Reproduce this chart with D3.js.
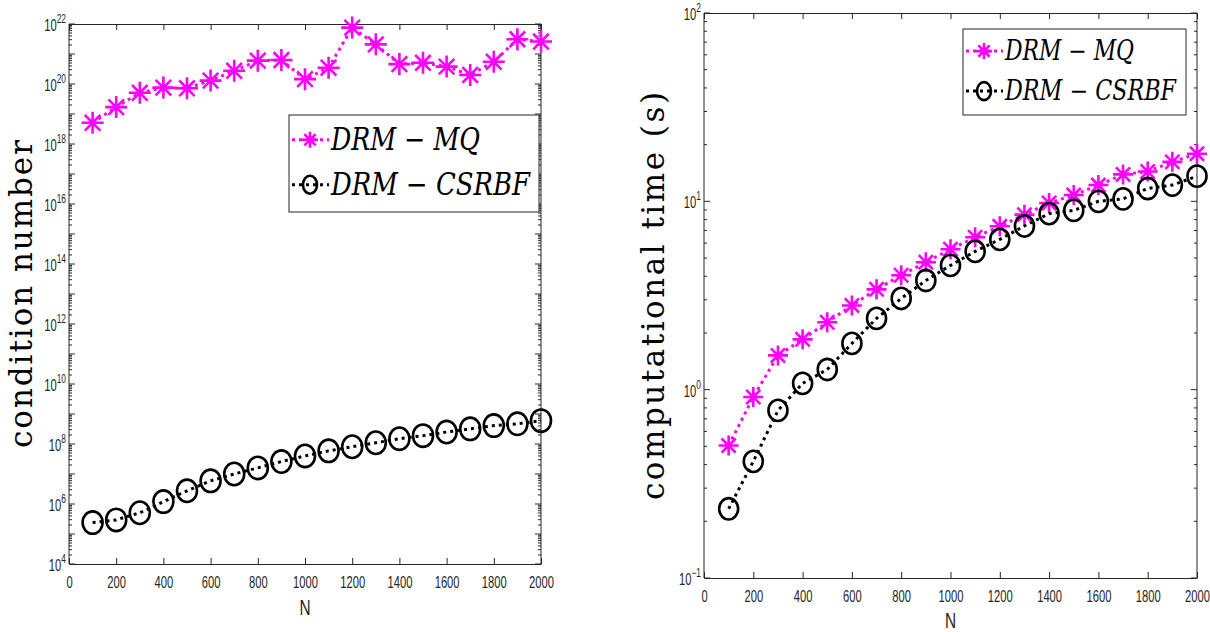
<!DOCTYPE html>
<html>
<head>
<meta charset="utf-8">
<script src="https://cdn.jsdelivr.net/npm/d3@7"></script>
<style>
  body { margin: 0; background: #fff; }
  .tick text, .tlab { font-family: "Liberation Sans", Arial, sans-serif; font-size: 16px; fill: #262626; }
  .ylab { font-family: "DejaVu Serif", serif; font-size: 31px; fill: #000; }
  .leg { font-family: "DejaVu Serif", serif; font-style: italic; fill: #000; }
</style>
</head>
<body>
<div id="chart"></div>
<script>
// N values shared by both panels
const nValues = d3.range(100, 2001, 100);

// condition numbers (left panel)
const condMQ = [5.1e18, 1.7e19, 5.1e19, 7.6e19, 7.2e19, 1.3e20, 2.75e20, 6.0e20, 6.3e20, 1.45e20,
  3.5e20, 7.6e21, 2.1e21, 4.6e20, 5.1e20, 3.8e20, 2.0e20, 5.5e20, 3.1e21, 2.6e21];
const condCS = [2.4e5, 2.95e5, 5.1e5, 1.2e6, 2.75e6, 5.9e6, 1.0e7, 1.6e7, 2.6e7, 4.0e7,
  5.9e7, 8.1e7, 1.1e8, 1.5e8, 1.9e8, 2.5e8, 3.2e8, 4.1e8, 4.7e8, 6.0e8];

// computational time in seconds (right panel)
const timeMQ = [0.505, 0.914, 1.52, 1.85, 2.28, 2.8, 3.41, 4.05, 4.75, 5.57,
  6.45, 7.37, 8.5, 9.8, 10.8, 12.2, 13.9, 14.4, 16.2, 17.9];
const timeCS = [0.233, 0.416, 0.776, 1.08, 1.28, 1.76, 2.39, 3.05, 3.8, 4.57,
  5.42, 6.28, 7.4, 8.6, 8.95, 10.0, 10.3, 11.7, 12.2, 13.6];

const xTicks = d3.range(0, 2001, 200);
const condExps = d3.range(4, 23, 2);
const timeExps = [-1, 0, 1, 2];
const seriesNames = ['DRM \u2212 MQ', 'DRM \u2212 CSRBF'];

const MAG = '#ff00ff';
const AX = '#262626';
const NARROW = 0.7; // squeeze tick labels, the original font is condensed

const svg = d3.select('#chart').append('svg')
  .attr('width', 1210).attr('height', 632);

function asterisk(g, r) {
  const p = d3.path();
  for (let a = 0; a < 4; a++) {
    const t = a * Math.PI / 4;
    p.moveTo(-r * Math.cos(t), -r * Math.sin(t));
    p.lineTo(r * Math.cos(t), r * Math.sin(t));
  }
  g.append('path').attr('d', p.toString())
    .attr('stroke', MAG).attr('stroke-width', 2.6).attr('fill', 'none');
}

function circleMark(g, rx, ry) {
  g.append('ellipse').attr('rx', rx).attr('ry', ry)
    .attr('stroke', '#000').attr('stroke-width', 2.6).attr('fill', 'none');
}

function panel(opt) {
  const { x, y, exps } = opt;
  const g = svg.append('g');
  const [x0, x1] = x.range();
  const [y0, y1] = y.range();

  // minor log ticks, every decade
  const lo = Math.round(Math.log10(y.domain()[0]));
  const hi = Math.round(Math.log10(y.domain()[1]));
  const minors = [];
  for (let k = lo; k < hi; k++) {
    for (let m = 2; m <= 9; m++) minors.push(m * Math.pow(10, k));
  }
  const majors = d3.range(lo, hi + 1).map(e => Math.pow(10, e));

  // bottom / top axes with inward ticks
  g.append('g').attr('transform', `translate(0,${y0})`)
    .call(d3.axisBottom(x).tickValues(xTicks).tickSizeInner(-6).tickSizeOuter(0).tickFormat(d3.format('d')))
    .call(a => a.select('.domain').attr('stroke', AX))
    .call(a => a.selectAll('.tick line').attr('stroke', AX))
    .call(a => a.selectAll('.tick text').attr('dy', 0).attr('y', 0)
      .attr('transform', `translate(0,${opt.xLabY - y0}) scale(${NARROW},1)`));
  g.append('g').attr('transform', `translate(0,${y1})`)
    .call(d3.axisTop(x).tickValues(xTicks).tickSizeInner(-6).tickSizeOuter(0).tickFormat(''))
    .call(a => a.select('.domain').attr('stroke', AX))
    .call(a => a.selectAll('.tick line').attr('stroke', AX));

  // left / right axes
  [[x0, 1], [x1, -1]].forEach(([px, dir]) => {
    const ag = g.append('g');
    ag.append('line').attr('x1', px).attr('x2', px).attr('y1', y0).attr('y2', y1).attr('stroke', AX);
    ag.selectAll('.maj').data(majors).join('line')
      .attr('x1', px).attr('x2', px + dir * 6)
      .attr('y1', d => y(d)).attr('y2', d => y(d)).attr('stroke', AX);
    ag.selectAll('.min').data(minors).join('line')
      .attr('x1', px).attr('x2', px + dir * 3)
      .attr('y1', d => y(d)).attr('y2', d => y(d)).attr('stroke', AX);
  });

  // y tick labels 10^k
  exps.forEach(e => {
    const t = g.append('text').attr('class', 'tlab')
      .attr('transform', `translate(${x0 - 3},${y(Math.pow(10, e)) + 7}) scale(${NARROW},1)`)
      .attr('text-anchor', 'end');
    t.append('tspan').text('10');
    t.append('tspan').attr('dy', -8).style('font-size', '12px').text(String(e).replace('-', '\u2212'));
  });

  // axis titles
  g.append('text').attr('class', 'tlab')
    .attr('transform', `translate(${(x0 + x1) / 2},${opt.nY}) scale(${NARROW},1)`)
    .attr('text-anchor', 'middle').style('font-size', '22px').text('N');
  g.append('text').attr('class', 'ylab')
    .attr('transform', `translate(${opt.yTitleX},${opt.yTitleY}) rotate(-90)`)
    .attr('text-anchor', 'middle').attr('textLength', opt.yTitleLen)
    .text(opt.yTitle);

  // series
  const line = d3.line().x((d, i) => x(nValues[i])).y(d => y(d));
  const series = [
    { vals: opt.mq, color: MAG, mark: gg => asterisk(gg, opt.astR) },
    { vals: opt.cs, color: '#000', mark: gg => circleMark(gg, opt.circR, opt.circR * 1.12) }
  ];
  series.forEach(s => {
    g.append('path').datum(s.vals).attr('d', line)
      .attr('fill', 'none').attr('stroke', s.color)
      .attr('stroke-width', 3).attr('stroke-dasharray', '3,4');
    g.selectAll(null).data(s.vals).join('g')
      .attr('transform', (d, i) => `translate(${x(nValues[i])},${y(d)})`)
      .each(function () { s.mark(d3.select(this)); });
  });

  // legend
  const L = opt.legend;
  const lg = g.append('g');
  lg.append('rect').attr('x', L.x).attr('y', L.y).attr('width', L.w).attr('height', L.h)
    .attr('fill', '#fff').attr('stroke', AX).attr('stroke-width', 1);
  series.forEach((s, i) => {
    const by = L.rows[i];
    const cy = by - L.fs * 0.33;
    lg.append('line').attr('x1', L.x + 3).attr('x2', L.x + 40)
      .attr('y1', cy).attr('y2', cy).attr('stroke', s.color)
      .attr('stroke-width', 3).attr('stroke-dasharray', '3,4');
    const mk = lg.append('g').attr('transform', `translate(${L.x + 21},${cy})`);
    if (i === 0) asterisk(mk, 8); else circleMark(mk, 7, 9);
    lg.append('text').attr('class', 'leg').attr('x', L.x + 42).attr('y', by)
      .style('font-size', L.fs + 'px').attr('textLength', L.tl[i]).attr('lengthAdjust', 'spacingAndGlyphs')
      .text(seriesNames[i]);
  });
}

panel({
  x: d3.scaleLinear([0, 2000], [69, 541]),
  y: d3.scaleLog([1e4, 1e22], [564, 24]),
  exps: condExps,
  mq: condMQ, cs: condCS,
  xLabY: 588, nY: 615,
  yTitle: 'condition number', yTitleX: 32, yTitleY: 294, yTitleLen: 308,
  astR: 11, circR: 10,
  legend: { x: 289, y: 115, w: 250, h: 97, fs: 31, rows: [150, 195], tl: [149, 199] }
});

panel({
  x: d3.scaleLinear([0, 2000], [704, 1197]),
  y: d3.scaleLog([0.1, 100], [578, 13]),
  exps: timeExps,
  mq: timeMQ, cs: timeCS,
  xLabY: 602, nY: 628,
  yTitle: 'computational time (s)', yTitleX: 664, yTitleY: 296, yTitleLen: 408,
  astR: 10, circR: 9.5,
  legend: { x: 963, y: 29, w: 223, h: 86, fs: 27, rows: [60, 100], tl: [129, 171] }
});
</script>
</body>
</html>
